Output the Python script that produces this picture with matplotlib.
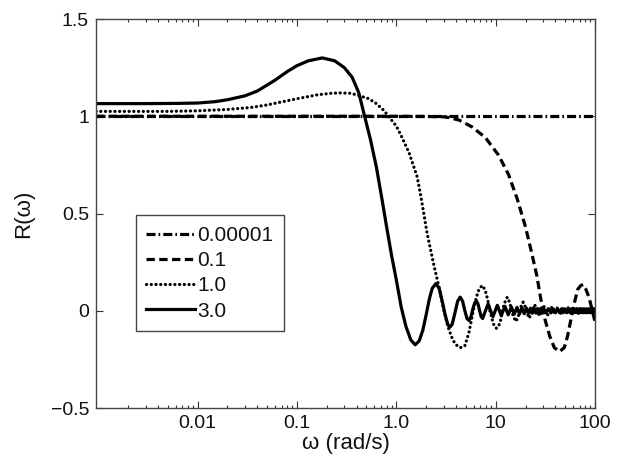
import numpy as np
import matplotlib
matplotlib.use("Agg")
import matplotlib.pyplot as plt
from matplotlib.ticker import FixedLocator, FixedFormatter, LogLocator, NullFormatter

plt.rcParams['font.family'] = ['Liberation Sans', 'DejaVu Sans']
plt.rcParams['lines.scale_dashes'] = False

# curve for parameter 0.00001 (flat)
w_a = [0.00095, 100]
r_a = [1.0, 1.0]

# curve for parameter 0.1
w_b = [0.00095, 0.01, 0.1, 1.0, 2.0, 3.0, 3.4, 4.3, 5.8, 7.9, 10.7, 13.5, 16.5, 20, 23, 26,
       28.5, 31.6, 35, 39, 44, 49, 53, 57, 62, 67, 72, 76, 81, 87, 92, 100]
r_b = [1.0, 1.0, 1.0, 1.0, 0.999, 0.997, 0.993, 0.98, 0.945, 0.89, 0.80, 0.70, 0.575, 0.43, 0.30, 0.18,
       0.06, -0.05, -0.13, -0.19, -0.21, -0.19, -0.13, -0.05, 0.04, 0.11, 0.13, 0.135, 0.11, 0.07, 0.02, -0.055]

# curve for parameter 1.0
w_c = [0.00095, 0.005, 0.01, 0.02, 0.034, 0.05, 0.072, 0.1, 0.16, 0.22, 0.27, 0.35, 0.43, 0.53, 0.63,
       0.75, 0.85, 1.0, 1.12, 1.35, 1.62, 1.78, 2.04, 2.4, 2.7, 2.95, 3.3, 3.7, 4.0, 4.4, 4.9, 5.4,
       5.9, 6.4, 6.8, 7.3, 7.8, 8.3, 8.75, 9.3, 9.7, 10.2, 10.7, 11.2, 11.7, 12.3, 13.1, 13.9, 14.5,
       15.1, 16.0, 16.9, 17.5, 18.1, 18.9, 19.7, 20.3, 21.0, 21.8, 24.7, 27.6, 30.5, 33.4, 36.3, 39.2,
       42.1, 45, 47.9, 50.8, 53.7, 56.6, 59.5, 62.4, 65.3, 68.2, 71.1, 74, 76.9, 79.8, 82.7, 85.6,
       88.5, 91.4, 94.3, 97.2, 100]
r_c = [1.025, 1.025, 1.028, 1.035, 1.045, 1.058, 1.075, 1.09, 1.11, 1.118, 1.12, 1.118, 1.105, 1.09, 1.065,
       1.03, 0.995, 0.95, 0.90, 0.81, 0.69, 0.58, 0.40, 0.23, 0.12, 0.02, -0.08, -0.15, -0.175, -0.19, -0.18, -0.11,
       -0.01, 0.07, 0.11, 0.13, 0.11, 0.06, 0.0, -0.05, -0.08, -0.09, -0.08, -0.05, 0.0, 0.04, 0.07, 0.04, 0.0,
       -0.03, -0.055, -0.03, 0.0, 0.025, 0.045, 0.025, 0.0, -0.02, -0.038, 0.032, -0.028, 0.025, -0.022, 0.02, -0.019,
       0.018, -0.017, 0.016, -0.015, 0.015, -0.014, 0.014, -0.013, 0.013, -0.013, 0.012, -0.012, 0.012, -0.012, 0.011, -0.011,
       0.011, -0.011, 0.01, -0.01, 0.01]

# curve for parameter 3.0
w_d = [0.00095, 0.003, 0.006, 0.01, 0.015, 0.02, 0.03, 0.04, 0.06, 0.08, 0.1, 0.13, 0.18, 0.24, 0.3, 0.36,
       0.42, 0.48, 0.55, 0.63, 0.72, 0.8, 0.9, 1.0, 1.12, 1.25, 1.4, 1.55, 1.7, 1.85, 2.0, 2.15, 2.3, 2.5,
       2.7, 2.9, 3.1, 3.3, 3.45, 3.65, 3.9, 4.15, 4.4, 4.65, 4.9, 5.15, 5.4, 5.65, 5.9, 6.15, 6.4, 6.65,
       6.9, 7.15, 7.4, 7.9, 8.4, 8.9, 9.4, 9.9, 10.4, 11.4, 12.4, 13.4, 14.4, 15.4, 16.4, 17.4, 18.4, 19.4,
       20.4, 21.4, 22.4, 23.4, 24.4, 25.4, 26.4, 27.4, 28.4, 29.4, 30.4, 32, 34, 36, 38, 40, 42, 44, 46,
       48, 50, 52, 54, 56, 58, 60, 62, 64, 66, 68, 70, 72, 74, 76, 78, 80, 82, 84, 86, 88, 90, 92, 94,
       96, 98, 100]
r_d = [1.065, 1.065, 1.066, 1.068, 1.075, 1.085, 1.105, 1.13, 1.185, 1.23, 1.26, 1.285, 1.30, 1.285, 1.25, 1.2,
       1.12, 1.0, 0.88, 0.74, 0.57, 0.43, 0.28, 0.16, 0.02, -0.08, -0.15, -0.175, -0.155, -0.1, -0.02, 0.06, 0.115, 0.14,
       0.115, 0.05, -0.02, -0.07, -0.085, -0.07, -0.01, 0.05, 0.07, 0.05, 0.0, -0.04, -0.05, -0.03, 0.01, 0.04, 0.05, 0.035,
       0.0, -0.03, -0.04, 0.0, 0.035, 0.0, -0.03, 0.0, 0.028, -0.025, 0.023, -0.021, 0.02, -0.018, 0.017, -0.016, 0.015, -0.015,
       0.014, -0.014, 0.013, -0.013, 0.013, -0.012, 0.012, -0.012, 0.012, -0.011, 0.011, -0.011, 0.011, -0.011, 0.01, -0.01, 0.01, -0.01, 0.01,
       -0.01, 0.01, -0.01, 0.01, -0.01, 0.01, -0.01, 0.01, -0.01, 0.01, -0.01, 0.01, -0.01, 0.01, -0.01, 0.01, -0.01, 0.01, -0.01, 0.01, -0.01, 0.01, -0.01, 0.01,
       -0.01, 0.01, -0.01]

labels = ["0.00001", "0.1", "1.0", "3.0"]
xticks = [0.01, 0.1, 1.0, 10, 100]
xticklabels = ["0.01", "0.1", "1.0", "10", "100"]
yticks = [-0.5, 0, 0.5, 1, 1.5]
yticklabels = ["\u22120.5", "0", "0.5", "1", "1.5"]

fig = plt.figure(figsize=(6.21, 4.74), dpi=100)
ax = fig.add_axes([0.1546, 0.1392, 0.8035, 0.8207])

lw = 2.3
ax.plot(w_a, r_a, color='black', lw=lw, dashes=[6.5, 2.2, 1.2, 2.2], label=labels[0])
ax.plot(w_b, r_b, color='black', lw=lw, dashes=[6, 3.2], label=labels[1])
ax.plot(w_c, r_c, color='black', lw=lw, dashes=[0.1, 3.3], dash_capstyle='round', label=labels[2])
ax.plot(w_d, r_d, color='black', lw=lw, label=labels[3])

ax.set_xscale('log')
ax.set_xlim(0.00095, 100)
ax.set_ylim(-0.5, 1.5)

ax.xaxis.set_major_locator(FixedLocator(xticks))
ax.xaxis.set_major_formatter(FixedFormatter(xticklabels))
ax.xaxis.set_minor_locator(LogLocator(base=10, subs=np.arange(2, 10), numticks=20))
ax.xaxis.set_minor_formatter(NullFormatter())
ax.yaxis.set_major_locator(FixedLocator(yticks))
ax.yaxis.set_major_formatter(FixedFormatter(yticklabels))

ax.tick_params(which='both', direction='in', top=True, right=True, labelsize=14, colors='#333333',
               labelcolor='#111111', width=0.8)
ax.tick_params(which='major', length=5, pad=5)
ax.tick_params(which='minor', length=2.5)
for s in ax.spines.values():
    s.set_color('#444444')
    s.set_linewidth(1.0)

ax.set_xlabel("\u03c9 (rad/s)", fontsize=16, labelpad=1, color='#111111')
ax.set_ylabel("R(\u03c9)", fontsize=16, labelpad=12, color='#111111')

leg = ax.legend(loc='lower left', bbox_to_anchor=(0.08, 0.198), borderaxespad=0,
                prop={'size': 15}, handlelength=2.35, handletextpad=0.1, labelspacing=0.3,
                borderpad=0.5, fancybox=False, framealpha=1, edgecolor='#444444')
leg.get_frame().set_linewidth(1.0)
for t in leg.get_texts():
    t.set_color('#111111')

fig.savefig("out.png", dpi=100)
